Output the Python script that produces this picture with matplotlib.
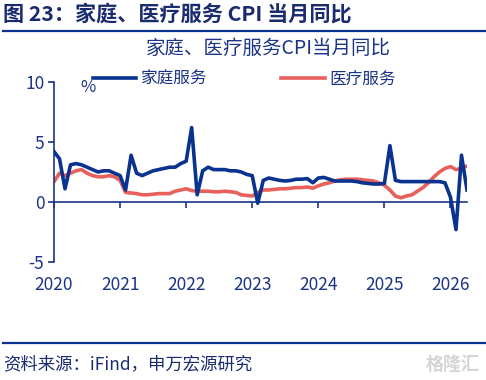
import matplotlib
matplotlib.use("Agg")
import matplotlib.pyplot as plt
import numpy as np

plt.rcParams["font.family"] = ["Noto Sans CJK SC", "DejaVu Sans"]
plt.rcParams["axes.unicode_minus"] = False

NAVY = "#1B3486"
BLUE = "#0A3390"
RED = "#E8605C"

# monthly, Jan 2020 .. Apr 2026
start_year = 2020
home_service = [
    4.2, 3.6, 1.1, 3.1, 3.2, 3.1, 2.9, 2.7, 2.5, 2.6, 2.6, 2.4,
    2.2, 1.0, 3.9, 2.4, 2.2, 2.4, 2.6, 2.7, 2.8, 2.9, 2.9, 3.2,
    3.4, 6.2, 0.6, 2.6, 2.9, 2.7, 2.7, 2.7, 2.6, 2.6, 2.5, 2.3,
    2.2, -0.1, 1.8, 2.0, 1.9, 1.8, 1.75, 1.8, 1.9, 1.9, 1.95, 1.6,
    2.0, 2.05, 1.9, 1.75, 1.75, 1.75, 1.75, 1.7, 1.6, 1.55, 1.5, 1.5,
    1.55, 4.7, 1.8, 1.7, 1.7, 1.7, 1.7, 1.7, 1.7, 1.7, 1.7, 1.6,
    0.4, -2.3, 3.9, 1.0,
]
medical_service = [
    1.7, 2.4, 2.2, 2.4, 2.6, 2.7, 2.4, 2.2, 2.1, 2.1, 2.2, 2.1,
    1.8, 0.8, 0.75, 0.7, 0.6, 0.6, 0.65, 0.7, 0.7, 0.7, 0.9, 1.0,
    1.1, 0.95, 0.9, 0.9, 0.9, 0.85, 0.85, 0.9, 0.85, 0.8, 0.6, 0.55,
    0.5, 0.8, 1.0, 1.0, 1.05, 1.1, 1.1, 1.15, 1.2, 1.2, 1.25, 1.15,
    1.35, 1.5, 1.6, 1.75, 1.85, 1.9, 1.9, 1.9, 1.85, 1.8, 1.75, 1.6,
    1.4, 1.0, 0.5, 0.35, 0.5, 0.6, 0.9, 1.2, 1.6, 2.1, 2.5, 2.8,
    2.95, 2.7, 2.8, 3.0,
]
year_ticks = [2020, 2021, 2022, 2023, 2024, 2025, 2026]
y_ticks = [-5, 0, 5, 10]

x = start_year + np.arange(len(home_service)) / 12.0

fig = plt.figure(figsize=(4.86, 3.8), dpi=100)
ax = fig.add_axes([54 / 486, 1 - 262 / 380, (467 - 54) / 486, 180 / 380])

ax.plot(x, home_service, color=BLUE, lw=2.6, label="家庭服务", zorder=3, solid_joinstyle="round")
ax.plot(x, medical_service, color=RED, lw=2.6, label="医疗服务", zorder=2, solid_joinstyle="round")

ax.set_xlim(start_year, x[-1])
ax.set_ylim(-5, 10)
ax.set_xticks(year_ticks)
ax.set_yticks(y_ticks)
ax.spines["top"].set_visible(False)
ax.spines["right"].set_visible(False)
ax.spines["bottom"].set_position(("data", 0))
for s in ("left", "bottom"):
    ax.spines[s].set_color(NAVY)
    ax.spines[s].set_linewidth(1.2)
ax.tick_params(axis="both", colors=NAVY, labelcolor=NAVY, direction="out", length=4, width=1.2, labelsize=12.5)
ax.tick_params(axis="x", pad=49)
ax.tick_params(axis="y", pad=3)

fig.legend(loc="center left", bbox_to_anchor=(93 / 486, 1 - 79 / 380), ncol=2, frameon=False,
           handlelength=2.6, handletextpad=0.3, columnspacing=4.4, borderpad=0, borderaxespad=0,
           prop={"size": 12}, labelcolor=NAVY)

fig.text(88 / 486, 1 - 88 / 380, "%", color=NAVY, fontsize=12, ha="center", va="center")
fig.text(268 / 486, 1 - 48 / 380, "家庭、医疗服务CPI当月同比", color=NAVY, fontsize=14, ha="center", va="center")

fig.text(3 / 486, 1 - 14 / 380, "图 23：家庭、医疗服务 CPI 当月同比", color="#1A2C6E", fontsize=15.2,
         fontweight="bold", ha="left", va="center")
fig.add_artist(plt.Line2D([3 / 486, 1], [1 - 31 / 380] * 2, color=BLUE, lw=1.6, transform=fig.transFigure))
fig.add_artist(plt.Line2D([3 / 486, 1], [1 - 343 / 380] * 2, color=BLUE, lw=1.6, transform=fig.transFigure))
fig.text(3 / 486, 1 - 364 / 380, "资料来源：iFind，申万宏源研究", color="#1A2C6E", fontsize=12.5,
         ha="left", va="center")
fig.text(480 / 486, 1 - 364 / 380, "格隆汇", color="#D5D5D5", fontsize=13, fontweight="bold",
         ha="right", va="center")

fig.savefig("out.png", dpi=100)
